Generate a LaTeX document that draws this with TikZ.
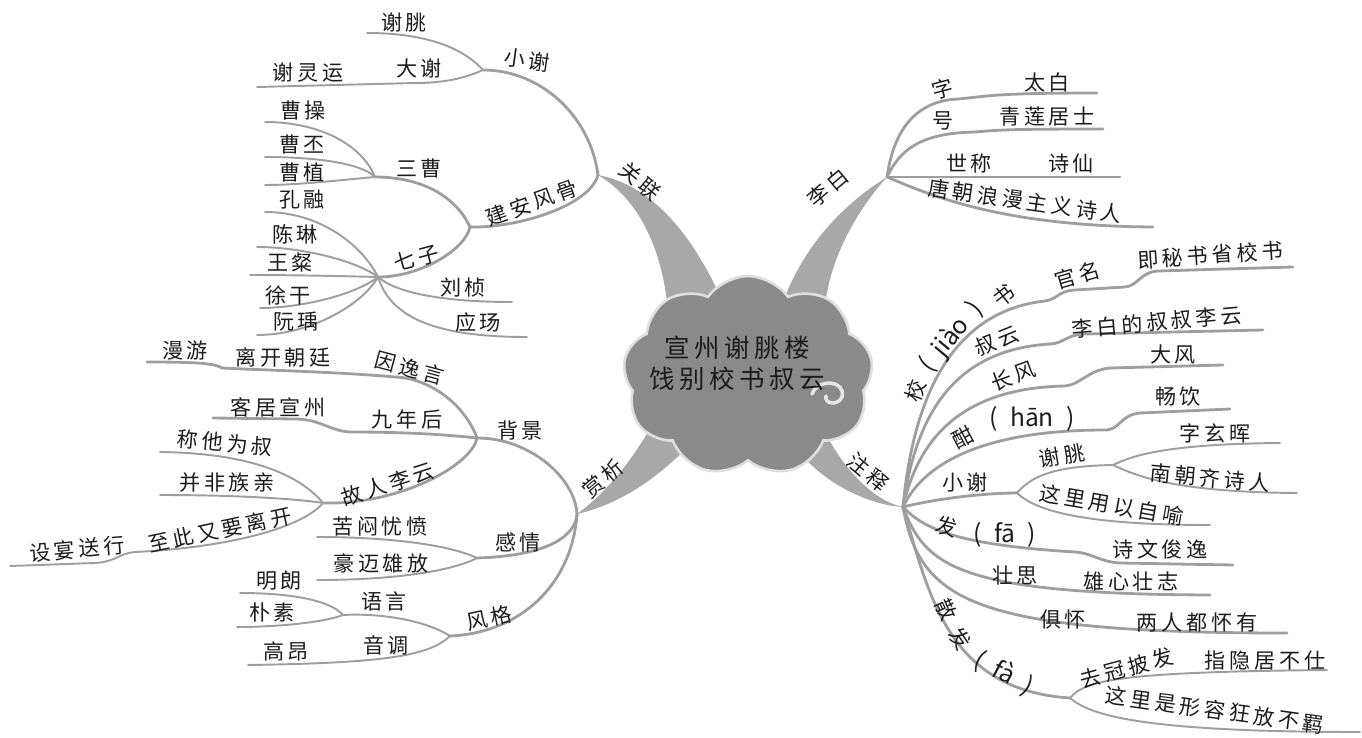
\documentclass[tikz,border=0pt]{standalone}
\usepackage{fontspec}
\newfontfamily\cjk[LetterSpace=18]{Noto Sans CJK SC}
\newfontfamily\pyfont{Noto Sans CJK SC}
\usetikzlibrary{shapes.symbols}
\definecolor{twiggray}{RGB}{158,158,158}
\definecolor{wedgegray}{RGB}{168,168,168}
\definecolor{cloudgray}{RGB}{138,138,138}
\definecolor{ink}{RGB}{28,28,28}

\begin{document}
\begin{tikzpicture}[x=0.02cm, y=-0.02cm,
    lbl/.style={font=\cjk\fontsize{12}{14}\selectfont, text=ink, inner sep=0pt},
    py/.style={font=\pyfont\fontsize{14}{16}\selectfont, text=ink, inner sep=0pt},
    branch/.style={draw=twiggray, line width=1.6pt, line cap=round},
    twig/.style={draw=twiggray, line width=1.1pt, line cap=round},
    wedge/.style={fill=wedgegray}]
  \useasboundingbox (0,0) rectangle (1362,737);

  % junctions
  \coordinate (gl) at (598,175);
  \coordinate (lb) at (887,177);
  \coordinate (sx) at (577,514);
  \coordinate (zs) at (903,507);

  \fill[wedge] (gl) .. controls (640,200) and (662,250) .. (668,310) -- (722,300) .. controls (690,230) and (650,185) .. (gl) -- cycle;
  \fill[wedge] (lb) .. controls (850,200) and (805,240) .. (782,305) -- (825,305) .. controls (832,250) and (862,205) .. (lb) -- cycle;
  \fill[wedge] (sx) .. controls (610,490) and (635,455) .. (652,425) -- (690,445) .. controls (650,485) and (615,505) .. (sx) -- cycle;
  \fill[wedge] (zs) .. controls (870,500) and (838,462) .. (822,425) -- (790,440) .. controls (818,482) and (868,505) .. (zs) -- cycle;

  \node[cloud, cloud puffs=9, cloud puff arc=110, aspect=1.35, minimum width=5cm, minimum height=4cm,
        fill=cloudgray, draw=gray!25, line width=1.5pt] (hub) at (748,376) {};
  \draw[white!80!gray, line width=2pt, line cap=round] (812,394) .. controls (818,378) and (846,380) .. (842,397) .. controls (838,406) and (824,404) .. (826,396);
  \node[font=\cjk\fontsize{14.5}{17.6}\selectfont, align=center, text=ink, inner sep=0pt] (title) at (737,363) {宣州谢朓楼\\饯别校书叔云};

  % guanlian
  \coordinate (xx) at (483,70);
  \coordinate (xt) at (367,33);
  \coordinate (dx) at (415,83);
  \coordinate (dxe) at (257,87);
  \coordinate (ja) at (470,227);
  \coordinate (sc) at (375,177);
  \coordinate (cc) at (265,122);
  \coordinate (cp) at (265,157);
  \coordinate (cz) at (265,185);
  \coordinate (qz) at (378,277);
  \coordinate (kr) at (265,212);
  \coordinate (cl) at (257,247);
  \coordinate (wc) at (250,275);
  \coordinate (xg) at (260,308);
  \coordinate (ry) at (257,335);
  \coordinate (lz) at (512,302);
  \coordinate (yc) at (527,337);
  \draw[branch] (gl) .. controls (590,115) and (540,70) .. (xx);
  \draw[twig] (xx) .. controls (465,50) and (430,33) .. (xt);
  \draw[twig] (xx) .. controls (465,78) and (445,83) .. (dx) -- (dxe);
  \draw[branch] (gl) .. controls (590,205) and (520,228) .. (ja);
  \draw[branch] (ja) .. controls (455,195) and (420,177) .. (sc);
  \draw[twig] (sc) .. controls (362,145) and (320,122) .. (cc);
  \draw[twig] (sc) .. controls (360,162) and (310,157) .. (cp);
  \draw[twig] (sc) .. controls (340,180) and (300,185) .. (cz);
  \draw[branch] (ja) .. controls (465,250) and (420,277) .. (qz);
  \draw[twig] (qz) .. controls (362,245) and (320,212) .. (kr);
  \draw[twig] (qz) .. controls (355,260) and (300,247) .. (cl);
  \draw[twig] (qz) .. controls (340,276) and (290,275) .. (wc);
  \draw[twig] (qz) .. controls (355,295) and (300,308) .. (xg);
  \draw[twig] (qz) .. controls (362,305) and (310,335) .. (ry);
  \draw[twig] (qz) .. controls (395,292) and (440,302) .. (lz);
  \draw[twig] (qz) .. controls (390,315) and (430,337) .. (yc);

  \node[lbl, rotate=-40] (t-gl) at (640,181) {关联};
  \node[lbl, rotate=-8] (t-xx) at (527,60) {小谢};
  \node[lbl] (t-xt) at (404,22) {谢朓};
  \node[lbl] (t-dx) at (419,68) {大谢};
  \node[lbl] (t-dxe) at (308,73) {谢灵运};
  \node[lbl, rotate=20] (t-ja) at (532,203) {建安风骨};
  \node[lbl] (t-sc) at (419,168) {三曹};
  \node[lbl] (t-cc) at (303,110) {曹操};
  \node[lbl] (t-cp) at (302,144) {曹丕};
  \node[lbl] (t-cz) at (302,172) {曹植};
  \node[lbl, rotate=15] (t-qz) at (417,258) {七子};
  \node[lbl] (t-kr) at (302,200) {孔融};
  \node[lbl] (t-cl) at (295,234) {陈琳};
  \node[lbl] (t-wc) at (290,262) {王粲};
  \node[lbl] (t-xg) at (288,295) {徐干};
  \node[lbl] (t-ry) at (296,322) {阮瑀};
  \node[lbl] (t-lz) at (463,288) {刘桢};
  \node[lbl] (t-yc) at (478,322) {应玚};

  % libai
  \coordinate (zi) at (958,99);
  \coordinate (zt) at (1097,93);
  \coordinate (hh) at (975,132);
  \coordinate (ht) at (1103,129);
  \coordinate (sh) at (1120,177);
  \coordinate (tc) at (1153,227);
  \draw[branch] (lb) .. controls (893,135) and (912,101) .. (zi) .. controls (990,96) and (995,93) .. (zt);
  \draw[branch] (lb) .. controls (900,150) and (920,133) .. (hh) .. controls (1000,130) and (1005,129) .. (ht);
  \draw[branch] (lb) -- (sh);
  \draw[branch] (lb) .. controls (930,195) and (1000,226) .. (tc);

  \node[lbl, rotate=40] (t-lb) at (828,188) {李白};
  \node[lbl, rotate=15] (t-zi) at (943,89) {字};
  \node[lbl] (t-zt) at (1047,82) {太白};
  \node[lbl] (t-hh) at (943,121) {号};
  \node[lbl] (t-ht) at (1047,117) {青莲居士};
  \node[lbl] (t-sh) at (969,164) {世称};
  \node[lbl] (t-sx) at (1071,164) {诗仙};
  \node[lbl, rotate=-8] (t-tc) at (1025,201) {唐朝浪漫主义诗人};

  % zhushi
  \coordinate (js1) at (1045,301);
  \coordinate (js2) at (1125,287);
  \coordinate (jsE) at (1293,267);
  \coordinate (sy1) at (1050,344);
  \coordinate (syE) at (1263,330);
  \coordinate (cf1) at (1065,386);
  \coordinate (cfE) at (1223,365);
  \coordinate (hn1) at (1105,430);
  \coordinate (hnE) at (1230,409);
  \coordinate (xx2) at (1017,493);
  \coordinate (xt2) at (1113,465);
  \coordinate (xz) at (1280,443);
  \coordinate (nq) at (1297,493);
  \coordinate (zy) at (1210,525);
  \coordinate (fa1) at (1075,552);
  \coordinate (faE) at (1233,565);
  \coordinate (zsE) at (1210,595);
  \coordinate (jhE) at (1287,633);
  \coordinate (sf) at (1070,698);
  \coordinate (qgE) at (1327,670);
  \coordinate (bfE) at (1360,732);
  \draw[branch] (zs) .. controls (912,410) and (945,312) .. (js1) .. controls (1058,299) and (1058,291) .. (1075,290) -- (js2) .. controls (1138,286) and (1140,272) .. (1158,271) -- (jsE);
  \draw[branch] (zs) .. controls (915,420) and (950,350) .. (sy1) .. controls (1065,343) and (1065,335) .. (1085,334) -- (syE);
  \draw[branch] (zs) .. controls (918,440) and (960,388) .. (cf1) .. controls (1080,385) and (1088,370) .. (1110,368) -- (cfE);
  \draw[branch] (zs) .. controls (925,460) and (990,430) .. (hn1) .. controls (1120,430) and (1120,415) .. (1140,413) -- (hnE);
  \draw[branch] (zs) .. controls (930,500) and (980,493) .. (xx2);
  \draw[twig] (xx2) .. controls (1030,478) and (1050,466) .. (xt2);
  \draw[twig] (xt2) .. controls (1130,457) and (1160,444) .. (xz);
  \draw[twig] (xt2) .. controls (1135,475) and (1170,492) .. (nq);
  \draw[twig] (xx2) .. controls (1035,510) and (1080,525) .. (zy);
  \draw[branch] (zs) .. controls (925,530) and (960,545) .. (fa1) .. controls (1092,553) and (1100,562) .. (1120,563) -- (faE);
  \draw[branch] (zs) .. controls (925,565) and (955,594) .. (zsE);
  \draw[branch] (zs) .. controls (920,600) and (970,633) .. (jhE);
  \draw[branch] (zs) .. controls (930,600) and (950,690) .. (sf);
  \draw[twig] (sf) .. controls (1085,680) and (1120,672) .. (qgE);
  \draw[twig] (sf) .. controls (1090,715) and (1140,732) .. (bfE);

  \node[lbl, rotate=-40] (t-zs) at (868,472) {注释};
  \node[lbl, rotate=70] (t-jiao1) at (916,391) {校};
  \node[py, rotate=50] (t-jiao2) at (951,337) {(\enspace jiào\enspace)};
  \node[lbl, rotate=38] (t-jiao3) at (1004,296) {书};
  \node[lbl, rotate=16] (t-gm) at (1077,275) {官名};
  \node[lbl, rotate=4] (t-ms) at (1210,255) {即秘书省校书};
  \node[lbl, rotate=22] (t-sy) at (997,341) {叔云};
  \node[lbl, rotate=5] (t-sy2) at (1157,322) {李白的叔叔李云};
  \node[lbl, rotate=20] (t-cf) at (1013,376) {长风};
  \node[lbl] (t-df) at (1173,355) {大风};
  \node[lbl, rotate=28] (t-han1) at (963,437) {酣};
  \node[py] (t-han2) at (1032,419) {(\enspace hān\enspace)};
  \node[lbl] (t-cy) at (1178,397) {畅饮};
  \node[lbl] (t-xx2) at (965,482) {小谢};
  \node[lbl, rotate=10] (t-xt2) at (1062,456) {谢朓};
  \node[lbl] (t-xz) at (1215,433) {字玄晖};
  \node[lbl, rotate=-5] (t-nq) at (1210,478) {南朝齐诗人};
  \node[lbl, rotate=-10] (t-zy) at (1112,505) {这里用以自喻};
  \node[lbl, rotate=-15] (t-fa1) at (947,526) {发};
  \node[py] (t-fa2) at (1005,535) {(\enspace fā\enspace)};
  \node[lbl] (t-fa5) at (1160,549) {诗文俊逸};
  \node[lbl] (t-zsi) at (1015,575) {壮思};
  \node[lbl] (t-zsE) at (1131,581) {雄心壮志};
  \node[lbl] (t-jh) at (1063,619) {俱怀};
  \node[lbl] (t-jhE) at (1197,622) {两人都怀有};
  \node[lbl, rotate=-65] (t-sf1) at (946,610) {散};
  \node[lbl, rotate=-55] (t-sf2) at (960,639) {发};
  \node[py, rotate=-28] (t-sf3) at (1004,673) {(\enspace fà\enspace)};
  \node[lbl, rotate=15] (t-qg) at (1127,668) {去冠披发};
  \node[lbl] (t-qgE) at (1265,660) {指隐居不仕};
  \node[lbl, rotate=-8] (t-bf) at (1215,710) {这里是形容狂放不羁};

  % shangxi
  \coordinate (bj) at (477,438);
  \coordinate (yy1) at (395,377);
  \coordinate (yy2) at (222,368);
  \coordinate (yyE) at (147,362);
  \coordinate (jn1) at (350,432);
  \coordinate (jnE) at (213,418);
  \coordinate (gr) at (323,503);
  \coordinate (ct) at (160,452);
  \coordinate (bf) at (160,495);
  \coordinate (zc1) at (135,552);
  \coordinate (zcE) at (10,566);
  \coordinate (gq) at (477,558);
  \coordinate (km) at (317,537);
  \coordinate (hm) at (317,580);
  \coordinate (fg) at (450,636);
  \coordinate (yl) at (343,615);
  \coordinate (ml) at (240,593);
  \coordinate (ps) at (237,627);
  \coordinate (ydE) at (248,665);
  \draw[branch] (sx) .. controls (575,478) and (530,438) .. (bj);
  \draw[branch] (bj) .. controls (465,405) and (430,378) .. (yy1) .. controls (340,372) and (260,370) .. (yy2) .. controls (215,364) and (205,362) .. (yyE);
  \draw[branch] (bj) .. controls (440,434) and (400,432) .. (jn1) .. controls (330,431) and (320,419) .. (295,419) -- (jnE);
  \draw[branch] (bj) .. controls (472,465) and (400,505) .. (gr);
  \draw[twig] (gr) .. controls (300,475) and (250,453) .. (ct);
  \draw[twig] (gr) .. controls (305,500) and (250,495) .. (bf);
  \draw[twig] (gr) .. controls (300,530) and (220,548) .. (zc1) .. controls (120,553) and (115,562) .. (95,563) -- (zcE);
  \draw[branch] (sx) .. controls (575,540) and (540,556) .. (gq);
  \draw[twig] (gq) .. controls (450,545) and (390,537) .. (km);
  \draw[twig] (gq) .. controls (450,572) and (390,580) .. (hm);
  \draw[branch] (sx) .. controls (572,585) and (520,633) .. (fg);
  \draw[twig] (fg) .. controls (425,620) and (380,613) .. (yl);
  \draw[twig] (yl) .. controls (330,600) and (290,593) .. (ml);
  \draw[twig] (yl) .. controls (325,622) and (280,627) .. (ps);
  \draw[twig] (fg) .. controls (430,655) and (390,663) .. (ydE);

  \node[lbl, rotate=40] (t-sx) at (603,479) {赏析};
  \node[lbl] (t-bj) at (520,430) {背景};
  \node[lbl, rotate=-15] (t-yy) at (410,368) {因逸言};
  \node[lbl] (t-lk) at (283,357) {离开朝廷};
  \node[lbl] (t-my) at (185,350) {漫游};
  \node[lbl] (t-jn) at (407,419) {九年后};
  \node[lbl] (t-kj) at (278,407) {客居宣州};
  \node[lbl, rotate=18] (t-gr) at (388,484) {故人李云};
  \node[lbl, rotate=-5] (t-ct) at (225,443) {称他为叔};
  \node[lbl] (t-bf2) at (227,483) {并非族亲};
  \node[lbl, rotate=12] (t-zc) at (220,530) {至此又要离开};
  \node[lbl, rotate=5] (t-sy3) at (77,549) {设宴送行};
  \node[lbl] (t-gq) at (518,542) {感情};
  \node[lbl] (t-km) at (380,527) {苦闷忧愤};
  \node[lbl] (t-hm) at (381,563) {豪迈雄放};
  \node[lbl, rotate=12] (t-fg) at (489,618) {风格};
  \node[lbl] (t-yl) at (384,601) {语言};
  \node[lbl] (t-ml) at (279,581) {明朗};
  \node[lbl] (t-ps) at (272,612) {朴素};
  \node[lbl] (t-yd) at (386,645) {音调};
  \node[lbl] (t-ga) at (286,651) {高昂};
\end{tikzpicture}
\end{document}
